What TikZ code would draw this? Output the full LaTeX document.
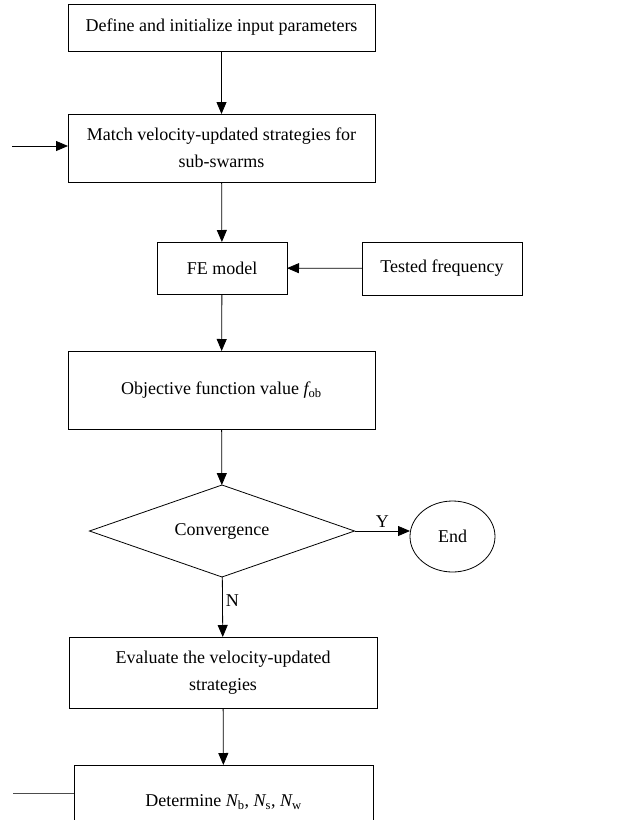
\documentclass[tikz,border=0pt]{standalone}
\usepackage{fontspec}
\setmainfont{Liberation Serif}
\usetikzlibrary{arrows.meta,shapes.geometric}

\begin{document}
\begin{tikzpicture}[x=1pt,y=-1pt,line width=0.8pt,
	box/.style={draw,rectangle,align=center,inner sep=0,outer sep=0,font=\fontsize{18}{27}\selectfont},
	lbl/.style={font=\fontsize{18}{21}\selectfont,inner sep=3pt},
	arr/.style={-{Triangle[length=12pt,width=10pt]}}]
	\clip (0,0) rectangle (619,820);
	\node[box,minimum width=307pt,minimum height=47pt] (init) at (221.5,27.5) {Define and initialize input parameters};
	\node[box,minimum width=307pt,minimum height=68pt] (match) at (221.5,148) {Match velocity-updated strategies for\\sub-swarms};
	\node[box,minimum width=130pt,minimum height=52pt] (fe) at (222,268) {FE model};
	\node[box,minimum width=160pt,minimum height=53pt] (tested) at (442,268.5) {Tested frequency};
	\node[box,minimum width=307pt,minimum height=78pt] (objfun) at (221.5,390) {Objective function value $\mathit{f}_{\mathrm{ob}}$};
	\node[box,diamond,aspect=2.9,minimum width=265pt,minimum height=92pt] (conv) at (222,531) {Convergence};
	\node[box,ellipse,minimum width=85pt,minimum height=71pt] (endnode) at (452.5,536.5) {End};
	\node[box,minimum width=308pt,minimum height=71pt] (evalst) at (223,672.5) {Evaluate the velocity-updated\\strategies};
	\node[box,minimum width=299pt,minimum height=74pt] (determ) at (223.5,802) {Determine $\mathit{N}_{\mathrm{b}}$, $\mathit{N}_{\mathrm{s}}$, $\mathit{N}_{\mathrm{w}}$};
	\coordinate (loopin) at (12,146);
	\coordinate (loopout) at (13,793);
	\draw[arr] (init) -- (match);
	\draw[arr] (match) -- (fe);
	\draw[arr] (tested) -- (fe);
	\draw[arr] (fe) -- (objfun);
	\draw[arr] (objfun) -- (conv);
	\draw[arr] (conv.east) -- node[lbl,above] {Y} (conv.east -| endnode.west);
	\draw[arr] (conv) -- node[lbl,right,pos=0.4] {N} (evalst);
	\draw[arr] (evalst) -- (determ);
	\draw[arr] (loopin) -- (loopin -| match.west);
	\draw[black!70] (loopout) -- (loopout -| determ.west);
\end{tikzpicture}
\end{document}
